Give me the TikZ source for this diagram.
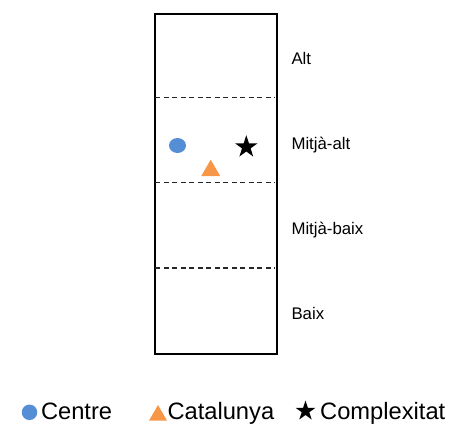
\documentclass[tikz,border=0pt]{standalone}
\usepackage{fontspec}
\setmainfont{Liberation Sans}
\usetikzlibrary{shapes.geometric}
\definecolor{markblue}{HTML}{558ED5}
\definecolor{markorange}{HTML}{F79646}
\tikzset{
  bandlab/.style={anchor=base west, inner sep=0pt, font=\fontsize{16.8}{19}\selectfont},
  leglab/.style={anchor=base west, inner sep=0pt, font=\fontsize{23.7}{28}\selectfont},
  divider/.style={line width=1.1pt, dash pattern=on 5pt off 3.5pt, black!85},
  bluedot/.style={ellipse, fill=markblue, draw=none, inner sep=0pt},
  orangetri/.style={regular polygon, regular polygon sides=3, fill=markorange, draw=none, inner sep=0pt},
  blackstar/.style={star, star points=5, star point ratio=2.618, fill=black, draw=none, inner sep=0pt},
}
\begin{document}
\begin{tikzpicture}[x=1pt, y=-1pt]
\useasboundingbox (0,0) rectangle (449,423);
% frame
\node[draw, line width=2pt, inner sep=0pt, minimum width=121.7pt, minimum height=340pt, anchor=north west] (frame) at (154.3,13.3) {};
% dividers
\coordinate (d1l) at (155.3,97.7); \coordinate (d1r) at (275,97.7);
\coordinate (d2l) at (155.3,182.5); \coordinate (d2r) at (275,182.5);
\coordinate (d3l) at (155.3,268); \coordinate (d3r) at (275,268);
\draw[divider] (d1l) -- (d1r);
\draw[divider] (d2l) -- (d2r);
\draw[divider] (d3l) -- (d3r);
% band labels
\node[bandlab] (alt) at (291.3,64) {Alt};
\node[bandlab] (malt) at (291.3,149.5) {Mitjà-alt};
\node[bandlab] (mbaix) at (291.3,234.5) {Mitjà-baix};
\node[bandlab] (baix) at (291.3,319.5) {Baix};
% markers
\node[bluedot, minimum width=17pt, minimum height=15pt] (centre) at (177.5,145.5) {};
\node[orangetri, minimum size=22pt] (catalunya) at (210.7,170.7) {};
\node[blackstar, minimum size=23.6pt] (complexitat) at (246.3,147) {};
% legend
\node[bluedot, minimum width=15.5pt, minimum height=15.5pt] (lc) at (29.5,412.3) {};
\node[leglab] (lct) at (40.8,419.5) {Centre};
\node[orangetri, minimum size=20.8pt] (lt) at (158,415.4) {};
\node[leglab] (ltt) at (167.3,419.5) {Catalunya};
\node[blackstar, minimum size=21pt] (ls) at (305.5,411) {};
\node[leglab] (lst) at (320,419.5) {Complexitat};
\end{tikzpicture}
\end{document}
